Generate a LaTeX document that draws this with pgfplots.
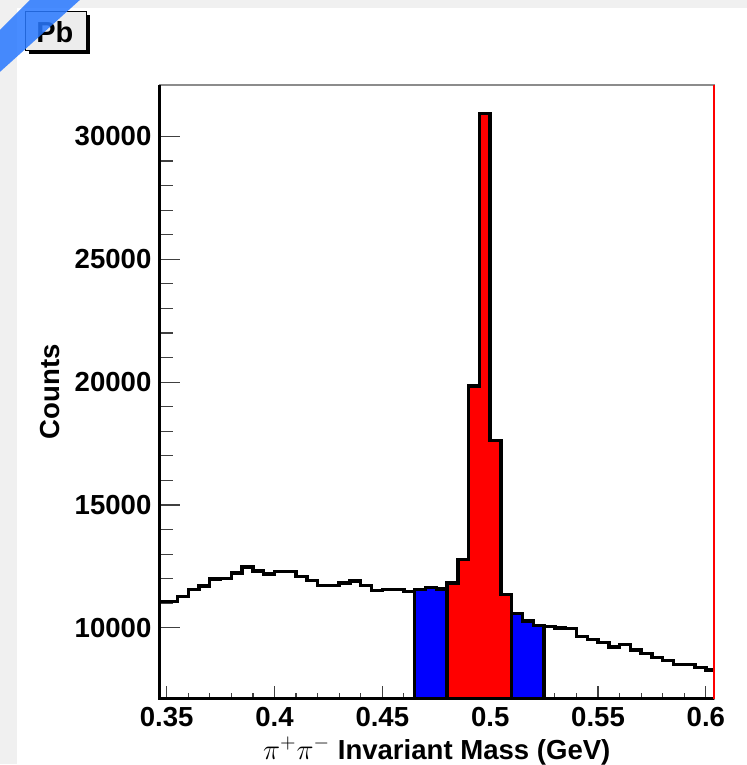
\documentclass[border=0pt]{standalone}
\usepackage{fontspec}
\setmainfont{Liberation Sans}
\usepackage{pgfplots}
\usepackage{pgfplotstable}
\pgfplotsset{compat=1.18}
\definecolor{bggray}{RGB}{240,240,240}
\definecolor{boxgray}{RGB}{236,236,236}
\definecolor{wm}{RGB}{40,120,255}
\pgfplotstableread{
x y
0.345 11080
0.350 11080
0.355 11280
0.360 11550
0.365 11710
0.370 11990
0.375 12000
0.380 12230
0.385 12480
0.390 12320
0.395 12190
0.400 12290
0.405 12290
0.410 12090
0.415 11920
0.420 11730
0.425 11730
0.430 11820
0.435 11900
0.440 11730
0.445 11510
0.450 11550
0.455 11550
0.460 11490
0.465 11550
0.470 11650
0.475 11580
0.480 11820
0.485 12770
0.490 19850
0.495 30930
0.500 17630
0.505 11350
0.510 10580
0.515 10280
0.520 10100
0.525 10050
0.530 10000
0.535 9980
0.540 9660
0.545 9530
0.550 9400
0.555 9220
0.560 9310
0.565 9100
0.570 8950
0.575 8800
0.580 8660
0.585 8500
0.590 8500
0.595 8390
0.600 8290
0.605 8290
}\hist
\begin{document}
\begin{tikzpicture}
\begin{scope}[x=0.5pt,y=-0.5pt,yshift=382.5pt]
\fill[white] (0,0) rectangle (748,765);
\fill[bggray] (0,0) rectangle (17,765);
\fill[bggray] (0,0) rectangle (748,8);
\end{scope}
\begin{axis}[name=ax, at={(80pt,32.5pt)}, anchor=south west, scale only axis,
  width=277.5pt, height=307.5pt,
  xmin=0.3468, xmax=0.6037, ymin=7110, ymax=32100,
  scaled ticks=false,
  xtick={0.35,0.4,0.45,0.5,0.55,0.6},
  xticklabels={0.35,0.4,0.45,0.5,0.55,0.6},
  ytick={10000,15000,20000,25000,30000},
  yticklabels={10000,15000,20000,25000,30000},
  minor x tick num=4, minor y tick num=4,
  tick align=inside, tick pos=left,
  xtick style={black!75, line width=0.6pt, /pgfplots/major tick length=6.5pt, /pgfplots/minor tick length=3pt},
  ytick style={black!75, line width=0.6pt, /pgfplots/major tick length=10pt, /pgfplots/minor tick length=6.5pt},
  axis line style={draw=black!45, line width=0.8pt},
  tick label style={font=\fontsize{13.8}{16}\selectfont\bfseries},
  /pgf/number format/assume math mode=true,
  xticklabel style={inner sep=0pt, yshift=-4pt},
  yticklabel style={inner sep=0pt, xshift=-4pt},
  xlabel={$\pi^{+}\pi^{-}$ Invariant Mass (GeV)},
  ylabel={Counts},
  label style={font=\fontsize{13.8}{16}\selectfont\bfseries, inner sep=0pt},
  xlabel style={at={(axis description cs:0.5,-0.0618)}, anchor=north},
  ylabel style={at={(axis description cs:-0.2162,0.5)}, rotate=0, anchor=north},
]
\addplot[const plot, fill=blue, draw=black, line width=1.7pt] coordinates {(0.465,11550) (0.470,11650) (0.475,11580) (0.480,11580)} \closedcycle;
\addplot[const plot, fill=red, draw=black, line width=1.7pt] coordinates {(0.480,11820) (0.485,12770) (0.490,19850) (0.495,30930) (0.500,17630) (0.505,11350) (0.510,11350)} \closedcycle;
\addplot[const plot, fill=blue, draw=black, line width=1.7pt] coordinates {(0.510,10580) (0.515,10280) (0.520,10100) (0.525,10100)} \closedcycle;
\addplot[const plot, draw=black, line width=1.7pt] table[x=x,y=y] {\hist};
\end{axis}
\draw[black, line width=1.6pt] (ax.north west) -- (ax.south west) -- (ax.south east);
\draw[red, line width=1.1pt] (ax.south east) -- (ax.north east);
\begin{scope}[x=0.5pt,y=-0.5pt,yshift=382.5pt]
\fill[black] (29,15) rectangle (90,54);
\filldraw[fill=boxgray, draw=black, line width=0.5pt] (26,12) rectangle (87,51);
\node[font=\fontsize{14.5}{16}\selectfont\bfseries, inner sep=0pt] at (55,32) {Pb};
\fill[wm, opacity=0.85] (0,30) -- (30,0) -- (80,0) -- (0,72) -- cycle;
\end{scope}
\end{tikzpicture}
\end{document}
